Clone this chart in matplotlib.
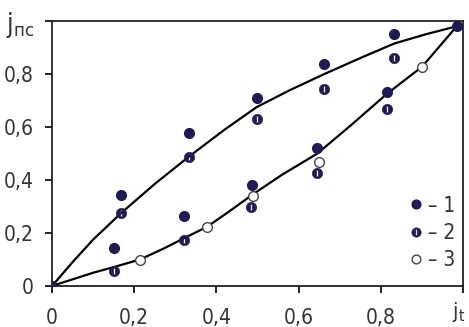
import numpy as np
import matplotlib.pyplot as plt
from matplotlib.path import Path

plt.rcParams['font.family'] = ['DejaVu Sans']
plt.rcParams['font.stretch'] = 'condensed'

# series 1 (filled), 2 (split), 3 (open)
x1 = [0.0, 0.168, 0.333, 0.498, 0.663, 0.833, 0.985,
      0.152, 0.321, 0.486, 0.646, 0.815]
y1 = [0.0, 0.343, 0.579, 0.708, 0.836, 0.951, 0.98,
      0.143, 0.264, 0.381, 0.52, 0.733]

x2 = [0.168, 0.333, 0.498, 0.662, 0.833,
      0.152, 0.321, 0.485, 0.646, 0.815]
y2 = [0.274, 0.488, 0.63, 0.742, 0.859,
      0.055, 0.174, 0.299, 0.425, 0.667]

x3 = [0.214, 0.378, 0.488, 0.649, 0.901]
y3 = [0.098, 0.224, 0.34, 0.469, 0.828]

# upper and lower guide curves
cu_x = [0.0, 0.05, 0.1, 0.168, 0.25, 0.333, 0.42, 0.498, 0.58, 0.663, 0.75, 0.833, 0.91, 0.985]
cu_y = [0.0, 0.09, 0.175, 0.275, 0.385, 0.488, 0.59, 0.675, 0.74, 0.80, 0.86, 0.915, 0.95, 0.98]
cl_x = [0.0, 0.05, 0.1, 0.152, 0.214, 0.27, 0.321, 0.378, 0.43, 0.488, 0.56, 0.646, 0.73, 0.815, 0.901, 0.985]
cl_y = [0.0, 0.025, 0.05, 0.072, 0.10, 0.14, 0.18, 0.224, 0.28, 0.345, 0.42, 0.50, 0.61, 0.725, 0.828, 0.98]

ticks = [0, 0.2, 0.4, 0.6, 0.8, 1.0]
xlabels = ['0', '0,2', '0,4', '0,6', '0,8', '']
ylabels = ['0', '0,2', '0,4', '0,6', '0,8', r'$\mathregular{j_{пс}}$']

navy = '#201a55'
txt = '#333333'

# circle with a vertical slit cut through it
slit = Path([(-0.15, -0.62), (-0.15, 0.62), (0.15, 0.62), (0.15, -0.62), (0, 0)],
            [Path.MOVETO, Path.LINETO, Path.LINETO, Path.LINETO, Path.CLOSEPOLY])
split_marker = Path.make_compound_path(Path.unit_circle(), slit)

fig = plt.figure(figsize=(4.69, 3.27), dpi=100)
ax = fig.add_axes([0.1109, 0.1254, 0.8761, 0.8104])

ax.plot(cu_x, cu_y, color='black', lw=1.6, zorder=2)
ax.plot(cl_x, cl_y, color='black', lw=1.6, zorder=2)

p1, = ax.plot(x1, y1, 'o', color=navy, ms=7, zorder=3)
p2, = ax.plot(x2, y2, ls='none', marker=split_marker, mfc=navy, mec=navy,
              mew=0.4, ms=7.5, zorder=3)
p3, = ax.plot(x3, y3, 'o', mfc='white', mec='#444444', mew=1.0, ms=7, zorder=3)

ax.set_xlim(0, 1.0)
ax.set_ylim(0, 1.0)
ax.set_xticks(ticks)
ax.set_yticks(ticks)
ax.set_xticklabels(xlabels)
ax.set_yticklabels(ylabels)
ax.tick_params(axis='x', length=5, width=1.2, pad=11, labelsize=15, labelcolor=txt)
ax.tick_params(axis='y', length=5, width=1.2, pad=8, labelsize=15, labelcolor=txt)
ax.get_yticklabels()[-1].set_fontsize(19)
ax.annotate(r'$\mathregular{j_t}$', xy=(1, 0), xycoords='axes fraction',
            xytext=(1.5, -10), textcoords='offset points',
            ha='right', va='top', fontsize=16, color=txt)
for s in ax.spines.values():
  s.set_linewidth(1.3)
  s.set_color('#222222')

ax.legend([p1, p2, p3], ['– 1', '– 2', '– 3'],
          loc='center', bbox_to_anchor=(0.925, 0.2), frameon=False,
          numpoints=1, markerscale=0.9,
          handlelength=0.7, handletextpad=0.2, labelspacing=0.35,
          borderpad=0, fontsize=15, labelcolor=txt)

fig.savefig('out.png', dpi=100)
